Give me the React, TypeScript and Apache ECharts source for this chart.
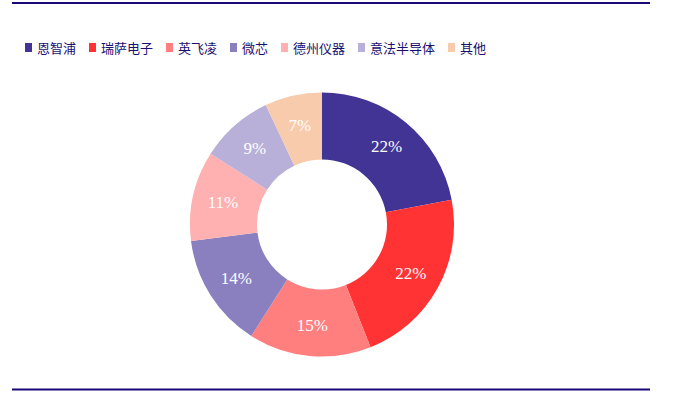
import React, { useEffect, useRef } from "react";
import * as echarts from "echarts";

const categories = ["恩智浦", "瑞萨电子", "英飞凌", "微芯", "德州仪器", "意法半导体", "其他"];
const shares = [22, 22, 15, 14, 11, 9, 7];
const colors = ["#423494", "#FF3333", "#FF7F7F", "#8A7FBF", "#FFB0B0", "#B8B0D8", "#F8CBAD"];

export default function App() {
  const ref = useRef<HTMLDivElement>(null);
  useEffect(() => {
    if (!ref.current) return;
    const chart = echarts.init(ref.current, null, { renderer: "svg" });
    chart.setOption({
      animation: false,
      backgroundColor: "#ffffff",
      color: colors,
      legend: {
        left: 20,
        top: 36,
        icon: "rect",
        itemWidth: 7,
        itemHeight: 9,
        itemGap: 13,
        textStyle: { color: "#1A1070", fontSize: 13, fontFamily: "Noto Sans CJK SC" },
        data: categories,
      },
      graphic: [
        { type: "rect", shape: { x: 12, y: 2, width: 638, height: 2 }, style: { fill: "#1A0878" } },
        { type: "rect", shape: { x: 12, y: 388.5, width: 638, height: 2 }, style: { fill: "#1A0878" } },
      ],
      series: [
        {
          type: "pie",
          center: [322, 224.5],
          radius: [65, 132],
          startAngle: 90,
          clockwise: true,
          avoidLabelOverlap: false,
          label: {
            show: true,
            position: "inside",
            formatter: "{c}%",
            color: "#ffffff",
            fontSize: 17,
            fontFamily: "Liberation Serif",
          },
          labelLine: { show: false },
          itemStyle: { borderWidth: 0 },
          emphasis: { disabled: true },
          data: categories.map((name, i) => ({ name, value: shares[i] })),
        },
      ],
    });
    return () => chart.dispose();
  }, []);
  return <div ref={ref} style={{ position: "absolute", left: 0, top: 0, width: 682, height: 399 }} />;
}
